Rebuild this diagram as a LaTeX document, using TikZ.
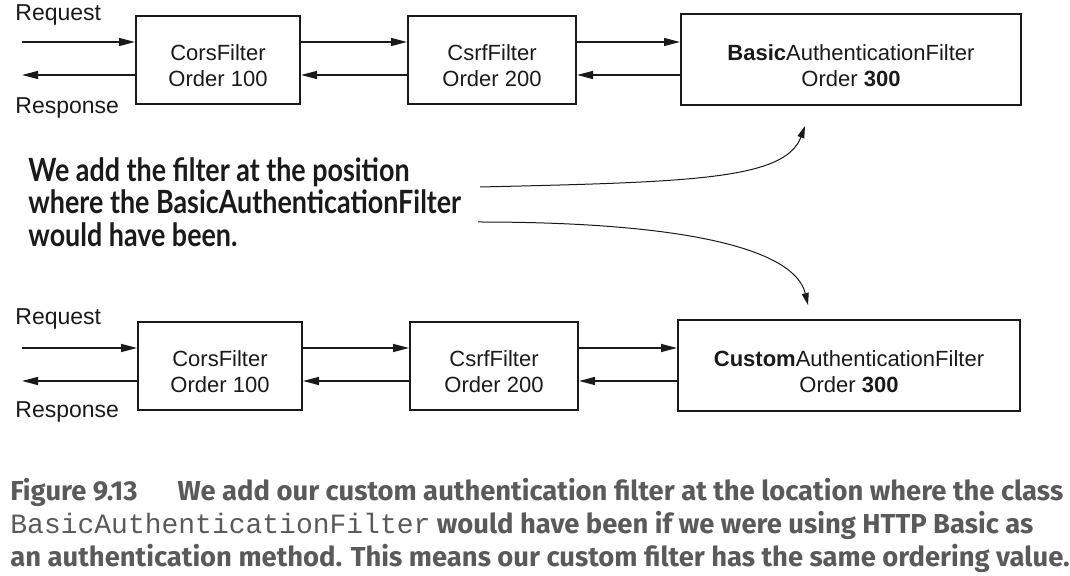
\documentclass[tikz,border=0pt]{standalone}
\usepackage{fontspec}
\setmainfont{Liberation Sans}
\newfontfamily\notafont[FakeStretch=0.84]{Lato}
\newfontfamily\piefont{Fira Sans}
\newfontfamily\piemono{Liberation Mono}
\usetikzlibrary{arrows.meta, positioning}
\definecolor{tinta}{HTML}{1A1A1A}
\definecolor{grispie}{HTML}{5A5A5A}
\tikzset{
  filtro/.style={rectangle, draw=tinta, line width=1pt, minimum width=82pt, minimum height=44pt},
  texto/.style={align=center, inner sep=0pt, text=tinta, font=\fontsize{11}{13}\selectfont},
  etiqueta/.style={anchor=west, inner sep=0pt, text=tinta, font=\fontsize{11.5}{13}\selectfont},
  flecha/.style={line width=0.7pt, draw=tinta, -{Triangle[length=8pt,width=4pt]}},
  curva/.style={line width=0.5pt, draw=tinta, -{Triangle[length=6pt,width=3.5pt]}},
  nota/.style={anchor=north west, align=left, inner sep=0pt, text=tinta,
               font=\notafont\bfseries\fontsize{16}{16.25}\selectfont},
  pie/.style={anchor=north west, align=left, inner sep=0pt, text=grispie,
              font=\piefont\bfseries\fontsize{13.7}{16.5}\selectfont}
}

\begin{document}
\begin{tikzpicture}[x=0.5pt, y=-0.5pt, node distance=0cm and 53pt]
  \useasboundingbox (0,0) rectangle (1070,576);
  % cadena original
  \node (cors) [filtro] at (218,60) {};
  \node at ([yshift=-3pt]cors.center) [texto] {CorsFilter\\ Order 100};
  \node (csrf) [filtro, right=of cors, minimum width=84pt] {};
  \node at ([yshift=-3pt]csrf.center) [texto] {CsrfFilter\\ Order 200};
  \node (basic) [filtro, right=51.5pt of csrf, minimum width=170pt, minimum height=45.5pt] {};
  \node at ([yshift=-3pt]basic.center) [texto] {\textbf{Basic}AuthenticationFilter\\ Order \textbf{300}};
  \node (lreq) [etiqueta] at (15,15) {Request};
  \node (lres) [etiqueta] at (15,108) {Response};
  \coordinate (req) at (22,42);
  \coordinate (res) at (22,75);
  \draw [flecha] (req) -- ([yshift=9pt]cors.west);
  \draw [flecha] ([yshift=-7.5pt]cors.west) -- (res);
  \draw [flecha] ([yshift=9pt]cors.east) -- ([yshift=9pt]csrf.west);
  \draw [flecha] ([yshift=-7.5pt]csrf.west) -- ([yshift=-7.5pt]cors.east);
  \draw [flecha] ([yshift=9pt]csrf.east) -- ([yshift=9pt]basic.west);
  \draw [flecha] ([yshift=-7.5pt]basic.west) -- ([yshift=-7.5pt]csrf.east);

  % nota
  \node (nota) [nota] at (28,157) {We add the filter at the position\\ where the BasicAuthenticationFilter\\ would have been.};
  \coordinate (n1) at (480,187);
  \coordinate (n1f) at (805,126);
  \coordinate (n2) at (478,222);
  \coordinate (n2f) at (808,305);
  \draw [curva] (n1) .. controls (690,182) and (785,180) .. (n1f);
  \draw [curva] (n2) .. controls (690,222) and (795,250) .. (n2f);

  % cadena con filtro propio
  \node (bcors) [filtro] at (220,366) {};
  \node at ([yshift=-3pt]bcors.center) [texto] {CorsFilter\\ Order 100};
  \node (bcsrf) [filtro, right=of bcors, minimum width=84pt] {};
  \node at ([yshift=-3pt]bcsrf.center) [texto] {CsrfFilter\\ Order 200};
  \node (custom) [filtro, right=49pt of bcsrf, minimum width=171pt, minimum height=45.5pt] {};
  \node at ([yshift=-3pt]custom.center) [texto] {\textbf{Custom}AuthenticationFilter\\ Order \textbf{300}};
  \node (blreq) [etiqueta] at (15,319) {Request};
  \node (blres) [etiqueta] at (15,412) {Response};
  \coordinate (breq) at (22,348);
  \coordinate (bres) at (22,381);
  \draw [flecha] (breq) -- ([yshift=9pt]bcors.west);
  \draw [flecha] ([yshift=-7.5pt]bcors.west) -- (bres);
  \draw [flecha] ([yshift=9pt]bcors.east) -- ([yshift=9pt]bcsrf.west);
  \draw [flecha] ([yshift=-7.5pt]bcsrf.west) -- ([yshift=-7.5pt]bcors.east);
  \draw [flecha] ([yshift=9pt]bcsrf.east) -- ([yshift=9pt]custom.west);
  \draw [flecha] ([yshift=-7.5pt]custom.west) -- ([yshift=-7.5pt]bcsrf.east);

  % pie de figura
  \node (pie) [pie] at (10,478) {Figure 9.13\hspace{20pt}We add our custom authentication filter at the location where the class\\
    {\piemono\mdseries\fontsize{14}{16.5}\selectfont BasicAuthenticationFilter} would have been if we were using HTTP Basic as\\
    an authentication method. This means our custom filter has the same ordering value.};
\end{tikzpicture}
\end{document}
